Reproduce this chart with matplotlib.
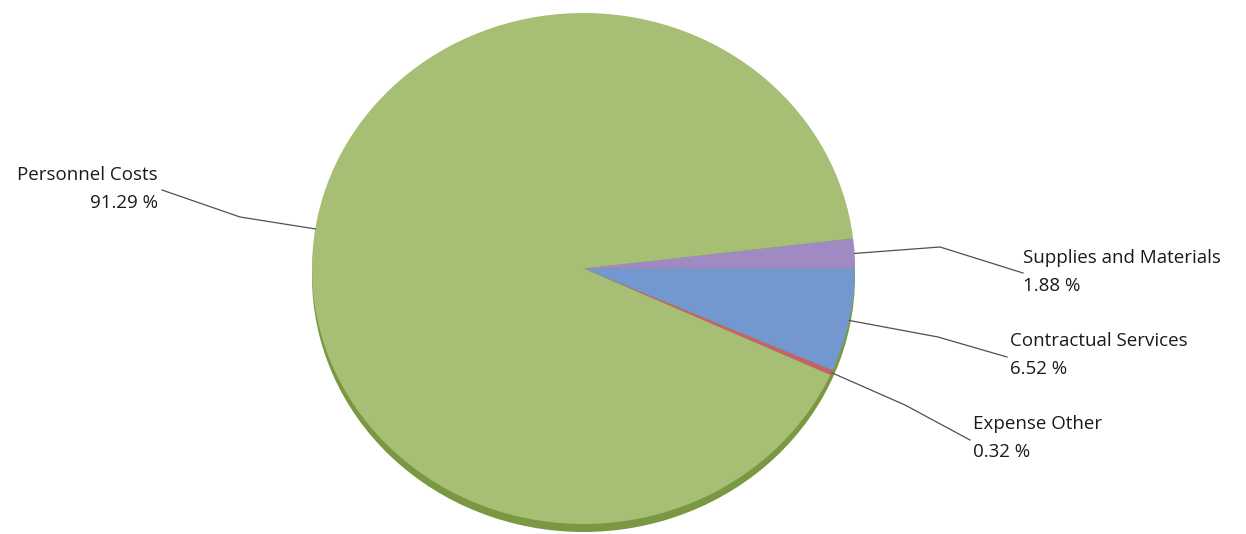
import numpy as np
import matplotlib

matplotlib.use("Agg")
import matplotlib.pyplot as plt
from matplotlib.patches import Ellipse

# data, counter-clockwise from the start angle
labels = ["Expense Other", "Contractual Services", "Supplies and Materials", "Personnel Costs"]
shares = [0.32, 6.52, 1.88, 91.29]
colors = ["#c9606a", "#7397cf", "#a08ac4", "#a6bf74"]

W, H = 1246, 534
fig = plt.figure(figsize=(W / 100, H / 100), dpi=100)
fig.patch.set_facecolor("white")

# pie bbox in pixels (top surface ellipse)
px0, px1, py_top, py_bot = 312, 855, 13, 524
cx, cy = (px0 + px1) / 2, (py_top + py_bot) / 2
rx, ry = (px1 - px0) / 2, (py_bot - py_top) / 2

ax = fig.add_axes([px0 / W, 1 - py_bot / H, (px1 - px0) / W, (py_bot - py_top) / H])
ax.axis("off")

# 3d rim below the top face
depth = 8 / ry
ax.add_patch(Ellipse((0, -depth), 2, 2, facecolor="#7a9842", edgecolor="none", zorder=0, clip_on=False))

start = -(shares[0] + shares[1]) * 3.6
wedges, _ = ax.pie(shares, colors=colors, startangle=start, counterclock=True, radius=1,
                   wedgeprops=dict(linewidth=0))
for w in wedges:
    w.set_zorder(1)
ax.set_xlim(-1, 1)
ax.set_ylim(-1, 1)
ax.set_aspect("auto")

# label layout (figure pixels): text anchor, elbow, text end of leader, alignment
layout = {
    "Personnel Costs": dict(text=(158, 189), elbow=(240, 217), end=(162, 190), ha="right"),
    "Supplies and Materials": dict(text=(1023, 272), elbow=(940, 247), end=(1023, 273), ha="left"),
    "Contractual Services": dict(text=(1010, 355), elbow=(938, 337), end=(1007, 357), ha="left"),
    "Expense Other": dict(text=(973, 438), elbow=(905, 405), end=(970, 440), ha="left"),
}

lines_ax = fig.add_axes([0, 0, 1, 1])
lines_ax.set_xlim(0, W)
lines_ax.set_ylim(H, 0)
lines_ax.axis("off")

cum = start
for lab, val, col in zip(labels, shares, colors):
    mid = np.deg2rad(cum + val * 3.6 / 2)
    cum += val * 3.6
    ax_x, ax_y = cx + rx * np.cos(mid), cy - ry * np.sin(mid)
    L = layout[lab]
    lines_ax.plot([ax_x, L["elbow"][0], L["end"][0]], [ax_y, L["elbow"][1], L["end"][1]],
                  color="#505050", lw=0.9)
    lines_ax.text(L["text"][0], L["text"][1], f"{lab}\n{val:.2f} %", ha=L["ha"], va="center",
                  fontsize=13.5, family="Open Sans", color="#1a1a1a", linespacing=1.65,
                  multialignment=L["ha"])

fig.savefig("out.png", dpi=100, facecolor="white")
